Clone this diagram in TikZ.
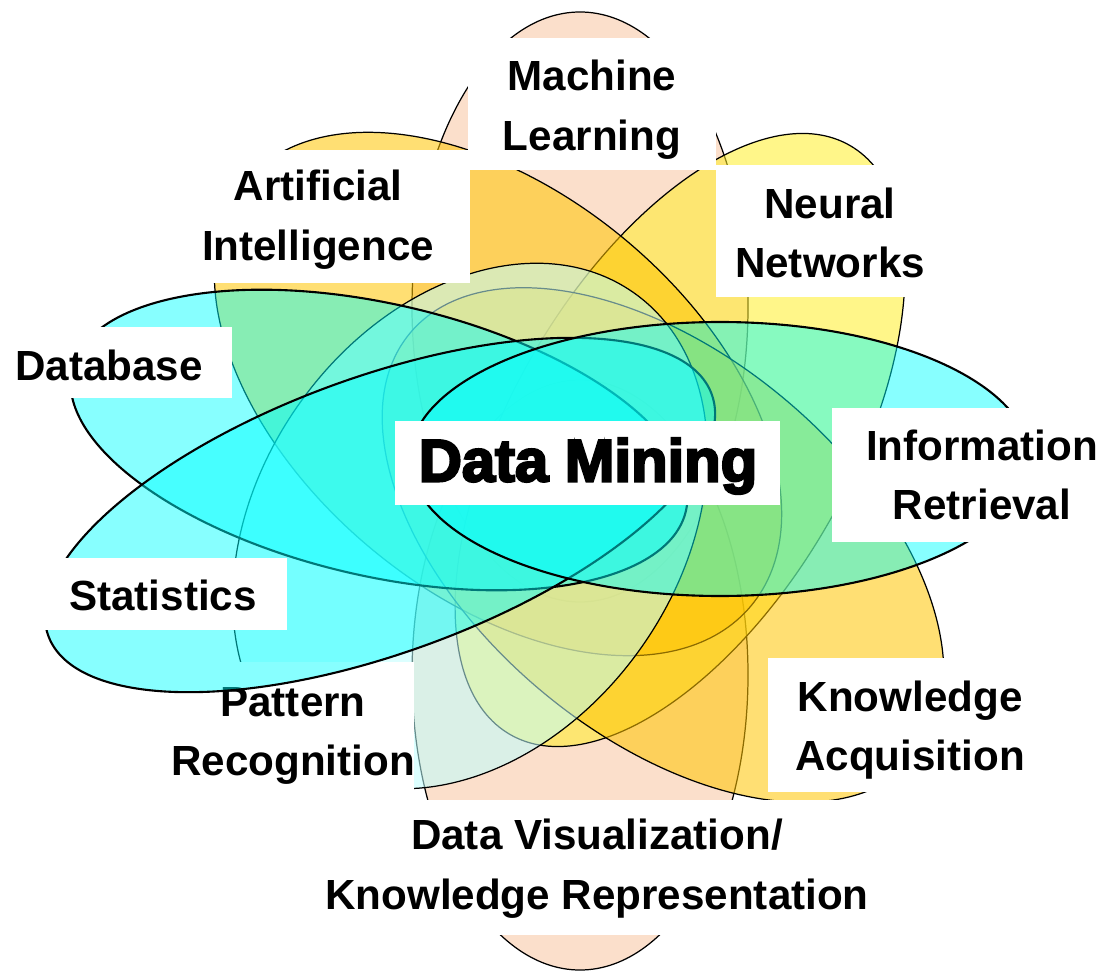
\documentclass[tikz,border=0pt]{standalone}
\usepackage{fontspec}
\setmainfont{Liberation Sans}
\newfontfamily\heavyfont[FakeBold=4]{Liberation Sans Bold}
\newcommand*{\tagfont}{\bfseries\fontsize{24}{34}\selectfont}
\newcommand*{\hubfont}{\heavyfont\fontsize{34}{40}\selectfont}
\definecolor{P}{RGB}{248,196,160}
\definecolor{G}{RGB}{255,196,0}
\definecolor{Y}{RGB}{255,238,40}
\definecolor{A}{RGB}{0,255,255}
\usepackage{tikz}
\tikzstyle{petal}=[draw=black, line width=0.7pt, fill opacity=0.55]
\tikzstyle{rim}=[draw=black, line width=1.2pt, fill opacity=0.47]
\tikzstyle{tag}=[fill=white, inner sep=0pt, outer sep=0pt]
\tikzstyle{txt}=[align=center, inner sep=0pt, font=\tagfont]

\begin{document}
\begin{tikzpicture}[x=0.02cm, y=0.02cm]
    \path [use as bounding box] (0,0) rectangle (1104,971);
    % petals
    \draw [petal, fill=P] (580,664) ellipse (168 and 295);
    \draw [petal, fill=P] (580,296) ellipse (168 and 295);
    \draw [petal, fill=Y, rotate around={60:(680,531)}] (680,531) ellipse (340 and 170);
    \draw [petal, fill=G, rotate around={-40:(498,577)}] (498,577) ellipse (330 and 200);
    \draw [petal, fill=G, rotate around={-40:(663,426)}] (663,426) ellipse (330 and 190);
    \draw [petal, fill=A!25, rotate around={55:(470,445)}] (470,445) ellipse (285 and 210);
    \node [tag, minimum width=5.08cm, minimum height=2.6cm] (prb) at (287,244) {};
    \node [txt] (pr) at (293,235) {Pattern\\Recognition};
    \draw [rim, fill=A, rotate around={-13:(379,531)}] (379,531) ellipse (315 and 136);
    \draw [rim, fill=A, rotate around={20:(380,456)}] (380,456) ellipse (353 and 138);
    \draw [rim, fill=A] (720,512) ellipse (310 and 137);
    % labels
    \node [tag, minimum width=4.96cm, minimum height=2.64cm] (mlb) at (592,867) {};
    \node [txt] (ml) at (592,861) {Machine\\Learning};
    \node [tag, minimum width=5.48cm, minimum height=2.66cm] (aib) at (333,754.5) {};
    \node [txt] (ai) at (318,751) {Artificial\\Intelligence};
    \node [tag, minimum width=4.28cm, minimum height=2.64cm] (nnb) at (823,740) {};
    \node [txt] (nn) at (830,738) {Neural\\Networks};
    \node [tag, minimum width=4.64cm, minimum height=1.42cm] (dbb) at (116,608.5) {};
    \node [txt] (db) at (109,606) {Database};
    \node [tag, minimum width=5.44cm, minimum height=2.68cm] (irb) at (968,496) {};
    \node [txt] (ir) at (982,496) {Information\\Retrieval};
    \node [tag, minimum width=4.96cm, minimum height=1.44cm] (stb) at (163,377) {};
    \node [txt] (st) at (163,376) {Statistics};
    \node [tag, minimum width=5.54cm, minimum height=2.68cm] (kab) at (906.5,246) {};
    \node [txt] (ka) at (910,241) {Knowledge\\Acquisition};
    \node [tag, minimum width=11.08cm, minimum height=2.7cm] (dvb) at (595,103.5) {};
    \node [txt] (dv) at (597,102) {Data Visualization/\\Knowledge Representation};
    \node [tag, minimum width=7.7cm, minimum height=1.68cm] (dmb) at (587.5,508) {};
    \node [inner sep=0pt, font=\hubfont] (dm) at (588,505) {Data Mining};
\end{tikzpicture}
\end{document}
